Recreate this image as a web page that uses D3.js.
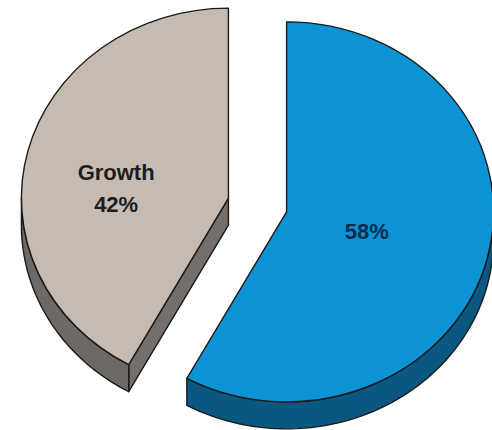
<!DOCTYPE html>
<html>
<head>
<meta charset="utf-8">
<script src="https://cdn.jsdelivr.net/npm/d3@7"></script>
<style>
  html, body { margin: 0; padding: 0; background: #fff; }
  svg { display: block; }
</style>
</head>
<body>
<script>
// Slice data
const sliceNames  = ["", "Growth"];
const sliceValues = [58, 42];
const sliceLabels = ["58%", "42%"];

// Colours: top face and extruded side for each slice
const topColors  = ["#0b93d3", "#c6bab1"];
const sideColors = ["#0a5881", "#6e6965"];

const width = 492, height = 430;
const cx = 257.5, cy = 205;     // centre of the un-exploded pie
const rx = 207, ry = 190;       // ellipse radii of the tilted top face
const depth = 27;               // visible thickness of the pie
const explode = 0.145;          // explode distance as a fraction of radius
const labelRadius = [0.40, 0.56];

const svg = d3.select("body").append("svg")
  .attr("width", width).attr("height", height)
  .style("background", "#fff");

const pie = d3.pie().sort(null).value(d => d.value);
const arcs = pie(sliceValues.map((v, i) => ({ name: sliceNames[i], value: v, label: sliceLabels[i], i })));

const arc = d3.arc().innerRadius(0).outerRadius(rx);
const line = d3.line();

// point on the rim of the ellipse (angle clockwise from 12 o'clock)
function rim(ox, oy, a, dz, f = 1) {
  return [ox + f * rx * Math.sin(a), oy - f * ry * Math.cos(a) + dz];
}

arcs.forEach(d => {
  d.mid = (d.startAngle + d.endAngle) / 2;
  d.ox = cx + explode * rx * Math.sin(d.mid);
  d.oy = cy - explode * ry * Math.cos(d.mid);
});

const stroke = "#1a1a1a";
const sw = 1.4;

arcs.forEach(d => {
  const i = d.data.i;
  const g = svg.append("g");

  // radial side walls facing the viewer
  [[d.startAngle, Math.sin(d.startAngle) < -1e-6], [d.endAngle, Math.sin(d.endAngle) > 1e-6]]
    .forEach(([a, visible]) => {
      if (!visible) return;
      const c0 = [d.ox, d.oy], r0 = rim(d.ox, d.oy, a, 0);
      const pts = [c0, r0, [r0[0], r0[1] + depth], [c0[0], c0[1] + depth]];
      g.append("path")
        .attr("d", line(pts) + "Z")
        .attr("fill", d3.color(sideColors[i]).brighter(0.15))
        .attr("stroke", stroke).attr("stroke-width", sw)
        .attr("stroke-linejoin", "round");
    });

  // curved outer wall, only the front half is visible
  const lo = Math.max(d.startAngle, Math.PI / 2);
  const hi = Math.min(d.endAngle, 3 * Math.PI / 2);
  if (hi > lo) {
    const steps = d3.range(0, 61).map(k => lo + (hi - lo) * k / 60);
    const upper = steps.map(a => rim(d.ox, d.oy, a, 0));
    const lower = steps.slice().reverse().map(a => rim(d.ox, d.oy, a, depth));
    g.append("path")
      .attr("d", line(upper.concat(lower)) + "Z")
      .attr("fill", sideColors[i])
      .attr("stroke", stroke).attr("stroke-width", sw)
      .attr("stroke-linejoin", "round");
  }

  // top face
  g.append("path")
    .attr("d", arc(d))
    .attr("transform", `translate(${d.ox},${d.oy}) scale(1,${ry / rx})`)
    .attr("fill", topColors[i])
    .attr("stroke", stroke).attr("stroke-width", sw)
    .attr("vector-effect", "non-scaling-stroke")
    .attr("stroke-linejoin", "round");
});

// labels: optional category name above the percentage
arcs.forEach(d => {
  const i = d.data.i;
  const p = rim(d.ox, d.oy, d.mid, 0, labelRadius[i]);
  const lines = [d.data.name, d.data.label].filter(s => s);
  const t = svg.append("text")
    .attr("text-anchor", "middle")
    .attr("font-family", "'Liberation Sans', Arial, sans-serif")
    .attr("font-weight", "bold")
    .attr("font-size", 22)
    .attr("fill", i === 0 ? "#0d2b4e" : "#1d1d1d");
  lines.forEach((s, k) => {
    t.append("tspan")
      .attr("x", p[0])
      .attr("y", p[1] + 8 + k * 32)
      .text(s);
  });
});
</script>
</body>
</html>
